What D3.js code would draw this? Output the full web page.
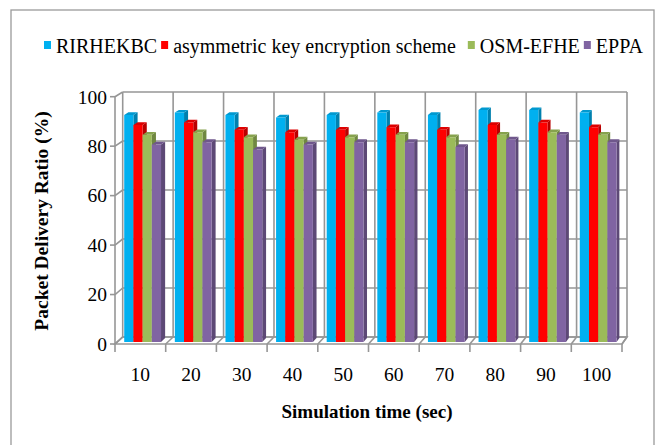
<!DOCTYPE html>
<html>
<head>
<meta charset="utf-8">
<script src="https://cdn.jsdelivr.net/npm/d3@7"></script>
<style>
  html, body { margin: 0; padding: 0; background: #fff; }
  svg { display: block; }
</style>
</head>
<body>
<svg id="chart" width="659" height="445" font-family="'Liberation Serif', 'Times New Roman', serif"></svg>
<script>
// Packet delivery ratio (%) per simulation time, four schemes
const categories = ["10", "20", "30", "40", "50", "60", "70", "80", "90", "100"];
const seriesNames = ["RIRHEKBC", "asymmetric key encryption scheme", "OSM-EFHE", "EPPA"];
const rirhekbc   = [92, 93, 92, 91, 92, 93, 92, 94, 94, 93];
const asymmetric = [88, 89, 86, 85, 86, 87, 86, 88, 89, 87];
const osmEfhe    = [84, 85, 83, 82, 83, 84, 83, 84, 85, 84];
const eppa       = [80, 81, 78, 80, 81, 81, 79, 82, 84, 81];
const yTicks = [0, 20, 40, 60, 80, 100];
const seriesColors = ["#00B0F0", "#FF0000", "#9BBB59", "#8064A2"];

const seriesValues = [rirhekbc, asymmetric, osmEfhe, eppa];
const serif = "'Liberation Serif', 'Times New Roman', serif";

const svg = d3.select("#chart");
const gridColor = "#969696";

// Outer chart frame
svg.append("rect")
  .attr("x", 11).attr("y", 10).attr("width", 643).attr("height", 460)
  .attr("fill", "none").attr("stroke", "#9a9a9a").attr("stroke-width", 1.3);

// 3D plot box: front plane and back plane scales (slight perspective)
const xFront = d3.scaleLinear().domain([0, categories.length]).range([115, 622]);
const xBack  = d3.scaleLinear().domain([0, categories.length]).range([122.7, 627]);
const yFront = d3.scaleLinear().domain([0, 100]).range([344, 96.7]);
const yBack  = d3.scaleLinear().domain([0, 100]).range([337, 92]);

// point at category position c, value v, depth d (0 = front, 1 = back)
function pt(c, v, d) {
  const x = xFront(c) + (xBack(c) - xFront(c)) * d;
  const y = yFront(v) + (yBack(v) - yFront(v)) * d;
  return [x, y];
}
const line = d3.line();

const frame = svg.append("g").attr("fill", "none").attr("stroke", gridColor).attr("stroke-width", 1.6);

// floor
frame.append("path")
  .attr("fill", "#fff")
  .attr("d", line([pt(0, 0, 0), pt(categories.length, 0, 0), pt(categories.length, 0, 1), pt(0, 0, 1)]) + "Z");

// back wall horizontal gridlines + left wall connectors
yTicks.forEach(v => {
  frame.append("path").attr("d", line([pt(0, v, 1), pt(categories.length, v, 1)]));
  frame.append("path").attr("d", line([pt(0, v, 0), pt(0, v, 1)]));
});
// back wall vertical gridlines + floor connectors
d3.range(categories.length + 1).forEach(i => {
  frame.append("path").attr("d", line([pt(i, 0, 1), pt(i, 100, 1)]));
  frame.append("path").attr("d", line([pt(i, 0, 0), pt(i, 0, 1)]));
});
// left wall front edge (value axis)
frame.append("path").attr("d", line([pt(0, 0, 0), pt(0, 100, 0)]));

// bars inside each category slot
const inner = d3.scaleBand().domain(d3.range(seriesNames.length)).range([0.1364, 0.8636]).padding(0);
const d0 = 0.3, d1 = 0.85;

const bars = svg.append("g");
categories.forEach((cat, ci) => {
  seriesValues.forEach((vals, si) => {
    const v = vals[ci];
    const cl = ci + inner(si), cr = cl + inner.bandwidth();
    const base = d3.color(seriesColors[si]);
    const g = bars.append("g");
    // right side face
    g.append("path")
      .attr("fill", base.darker(0.9).formatHex())
      .attr("d", line([pt(cr, 0, d0), pt(cr, 0, d1), pt(cr, v, d1), pt(cr, v, d0)]) + "Z");
    // top face
    g.append("path")
      .attr("fill", base.darker(0.4).formatHex())
      .attr("d", line([pt(cl, v, d0), pt(cr, v, d0), pt(cr, v, d1), pt(cl, v, d1)]) + "Z");
    // front face
    g.append("path")
      .attr("fill", base.formatHex())
      .attr("d", line([pt(cl, 0, d0), pt(cr, 0, d0), pt(cr, v, d0), pt(cl, v, d0)]) + "Z");
  });
});

// value axis ticks and labels
const axisG = svg.append("g");
yTicks.forEach(v => {
  const [x, y] = pt(0, v, 0);
  axisG.append("line").attr("x1", x - 5).attr("x2", x).attr("y1", y).attr("y2", y)
    .attr("stroke", gridColor).attr("stroke-width", 1.6);
  axisG.append("text").attr("x", x - 8).attr("y", y).attr("dy", "0.35em")
    .attr("font-family", serif).attr("text-anchor", "end").attr("font-size", 19.5).text(v);
});

// category axis ticks and labels
d3.range(categories.length + 1).forEach(i => {
  const [x, y] = pt(i, 0, 0);
  axisG.append("line").attr("x1", x).attr("x2", x).attr("y1", y).attr("y2", y + 8)
    .attr("stroke", gridColor).attr("stroke-width", 1.6);
});
categories.forEach((c, i) => {
  const [x] = pt(i + 0.5, 0, 0);
  axisG.append("text").attr("x", x).attr("y", 381).attr("text-anchor", "middle")
    .attr("font-family", serif).attr("font-size", 19.5).text(c);
});

// axis titles
svg.append("text").attr("x", 367).attr("y", 418).attr("text-anchor", "middle")
  .attr("font-family", serif).attr("font-size", 19).attr("font-weight", "bold")
  .text("Simulation time (sec)");
svg.append("text").attr("transform", "translate(48,221) rotate(-90)")
  .attr("text-anchor", "middle").attr("font-family", serif).attr("font-size", 19.5)
  .attr("font-weight", "bold").text("Packet Delivery Ratio (%)");

// legend
const legend = svg.append("g");
let lx = 44;
seriesNames.forEach((name, i) => {
  legend.append("rect").attr("x", lx).attr("y", 41).attr("width", 7).attr("height", 8)
    .attr("fill", seriesColors[i]);
  const t = legend.append("text").attr("x", lx + 12).attr("y", 53)
    .attr("font-family", serif).attr("font-size", 20).text(name);
  lx += 12 + t.node().getComputedTextLength() + (i === 1 ? 12 : 4);
});
</script>
</body>
</html>
